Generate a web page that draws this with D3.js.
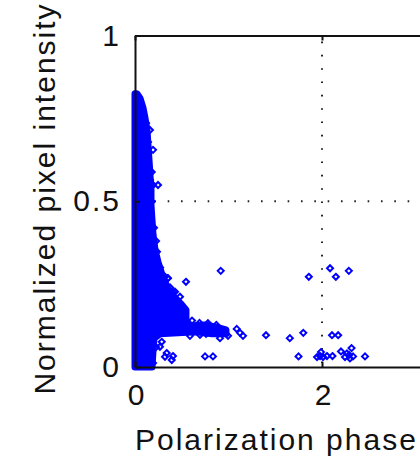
<!DOCTYPE html>
<html>
<head>
<meta charset="utf-8">
<script src="https://cdn.jsdelivr.net/npm/d3@7"></script>
<style>
  body { margin: 0; background: #fff; overflow: hidden; }
  svg { display: block; }
  text { font-family: "Liberation Sans", Arial, sans-serif; font-size: 30px; letter-spacing: 2px; fill: #111; }
</style>
</head>
<body>
<div id="svg-container"></div>
<script>
////////////////////////////////////////////////////////////////////
////////////////////////////  Data  ///////////////////////////////
// outline of the solid cloud of points near phase 0 [phase, intensity]
const denseOutline = [
  [0.021, 0.824], [0.053, 0.811], [0.086, 0.781], [0.107, 0.751], [0.128, 0.715],
  [0.139, 0.670], [0.150, 0.624], [0.160, 0.579], [0.171, 0.534], [0.171, 0.489],
  [0.182, 0.443], [0.193, 0.398], [0.214, 0.353], [0.246, 0.317], [0.289, 0.278],
  [0.342, 0.241], [0.417, 0.211], [0.492, 0.190], [0.545, 0.172], [0.545, 0.142],
  [0.588, 0.124], [0.749, 0.127], [0.856, 0.121], [0.973, 0.112], [0.973, 0.100],
  [0.824, 0.100], [0.652, 0.106], [0.460, 0.103], [0.267, 0.100], [0.203, 0.087],
  [0.193, 0.051], [0.182, 0.000], [0, 0], [0, 0.824]
];

// points on the ragged edge of the cloud
const edgePoints = [
  [0.061, 0.781], [0.086, 0.754], [0.118, 0.736], [0.160, 0.715], [0.139, 0.679],
  [0.193, 0.655], [0.139, 0.609], [0.179, 0.588], [0.160, 0.564], [0.136, 0.555],
  [0.193, 0.549], [0.246, 0.549], [0.179, 0.499], [0.235, 0.348], [0.321, 0.272],
  [0.353, 0.268], [0.321, 0.250], [0.428, 0.227], [0.481, 0.212], [0.481, 0.122],
  [0.150, 0.460], [0.203, 0.420], [0.225, 0.380], [0.268, 0.300], [0.375, 0.240],
  [0.610, 0.140], [0.690, 0.133], [0.780, 0.132], [0.870, 0.127], [0.760, 0.100]
];

// scattered points
const scatterPoints = [
  [0.917, 0.290], [0.545, 0.257], [0.350, 0.268], [0.321, 0.253], [0.406, 0.226],
  [0.232, 0.103], [0.267, 0.061], [0.225, 0.060], [0.286, 0.076], [0.339, 0.042],
  [0.406, 0.033], [0.393, 0.021], [0.321, 0.031], [0.193, 0.012], [0.749, 0.032],
  [0.834, 0.032], [0.588, 0.094], [0.695, 0.097], [0.909, 0.087], [0.995, 0.094],
  [1.088, 0.115], [1.123, 0.103], [1.155, 0.094], [1.401, 0.096], [1.656, 0.087],
  [1.749, 0.032], [1.800, 0.103], [1.859, 0.272], [2.086, 0.298], [2.148, 0.272],
  [2.287, 0.290], [1.979, 0.033], [1.947, 0.030], [2.011, 0.030], [1.989, 0.045],
  [2.053, 0.033], [2.112, 0.033], [2.107, 0.096], [2.173, 0.096], [2.203, 0.047],
  [2.316, 0.057], [2.246, 0.030], [2.289, 0.036], [2.332, 0.032], [2.299, 0.026],
  [2.267, 0.041], [2.460, 0.032]
];

const xTicks = [0, 2];
const yTicks = [0, 0.5, 1];
const xLabel = "Polarization phase";
const yLabel = "Normalized pixel intensity";

////////////////////////////////////////////////////////////////////
////////////////////////////  Init  ///////////////////////////////
const width = 420;
const height = 462;
const margin = { top: 35.5, left: 135, bottom: 95 };

const svg = d3.select("#svg-container").append("svg")
  .attr("width", width)
  .attr("height", height);

const xScale = d3.scaleLinear().domain([0, 3.5]).range([margin.left, margin.left + 3.5 * 93.5]);
const yScale = d3.scaleLinear().domain([0, 1]).range([height - margin.bottom, margin.top]);

const blue = "#0000ff";

// grid (dotted)
svg.append("line")
  .attr("x1", xScale(2)).attr("x2", xScale(2))
  .attr("y1", yScale(1)).attr("y2", yScale(0))
  .attr("stroke", "#222").attr("stroke-width", 2)
  .attr("stroke-dasharray", "1.6 11.73").attr("stroke-dashoffset", 7.3);

svg.append("line")
  .attr("x1", xScale(0)).attr("x2", xScale(3.5))
  .attr("y1", yScale(0.5)).attr("y2", yScale(0.5))
  .attr("stroke", "#222").attr("stroke-width", 2)
  .attr("stroke-dasharray", "1.6 11.73").attr("stroke-dashoffset", 7.3);

// dense cloud
svg.append("path")
  .datum(denseOutline)
  .attr("d", d3.line().x((d) => xScale(d[0])).y((d) => yScale(d[1])).curve(d3.curveLinearClosed))
  .attr("fill", blue)
  .attr("stroke", blue)
  .attr("stroke-width", 7)
  .attr("stroke-linejoin", "round");

// diamond markers
const diamond = "M0,-3L3,0L0,3L-3,0Z";
svg.selectAll(".pt")
  .data(edgePoints.concat(scatterPoints))
  .enter()
  .append("path")
  .attr("class", "pt")
  .attr("d", diamond)
  .attr("transform", (d) => `translate(${xScale(d[0])},${yScale(d[1])})`)
  .attr("fill", "none")
  .attr("stroke", blue)
  .attr("stroke-width", 2);

// axes
const xAxis = d3.axisBottom(xScale).tickValues(xTicks).tickSize(-5).tickSizeOuter(0)
  .tickPadding(17).tickFormat((d) => String(d));
const xAxisTop = d3.axisTop(xScale).tickValues(xTicks).tickSize(-5).tickSizeOuter(0).tickFormat("");
const yAxis = d3.axisLeft(yScale).tickValues(yTicks).tickSize(-5).tickSizeOuter(0)
  .tickPadding(14).tickFormat((d) => String(d));

const gx = svg.append("g").attr("transform", `translate(0,${yScale(0)})`).call(xAxis);
const gxt = svg.append("g").attr("transform", `translate(0,${yScale(1)})`).call(xAxisTop);
const gy = svg.append("g").attr("transform", `translate(${xScale(0)},0)`).call(yAxis);

[gx, gxt, gy].forEach((g) => {
  g.select(".domain").attr("stroke", "#111").attr("stroke-width", 2);
  g.selectAll(".tick line").attr("stroke", "#111").attr("stroke-width", 2);
  g.selectAll("text").attr("font-size", null).attr("font-family", null).attr("fill", null);
});
gx.selectAll("text").attr("dx", "0.05em");

// axis labels
svg.append("text")
  .attr("x", xScale(0))
  .attr("y", 450)
  .text(xLabel);

svg.append("text")
  .attr("transform", `translate(55,${198.5}) rotate(-90)`)
  .attr("text-anchor", "middle")
  .text(yLabel);
</script>
</body>
</html>
